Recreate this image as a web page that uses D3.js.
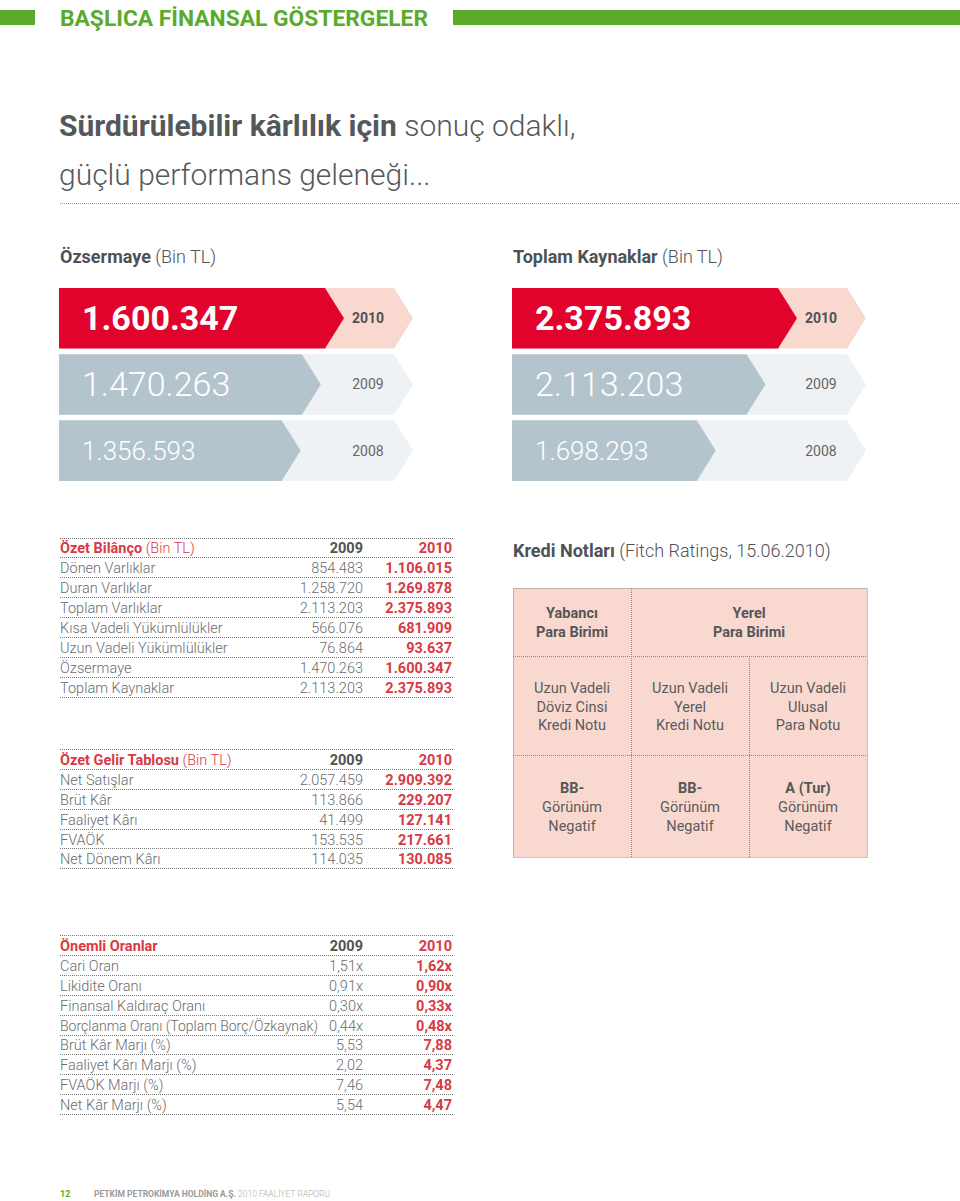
<!DOCTYPE html>
<html><head><meta charset="utf-8">
<script src="https://cdn.jsdelivr.net/npm/d3@7"></script>
<style>
body{margin:0;background:#fff}
svg{display:block}
text{font-family:Roboto,"Open Sans",sans-serif}
</style>
</head><body>
<svg id="c" width="960" height="1201"></svg>
<script>
// ---------- DATA ----------
const years = ["2010", "2009", "2008"];
const ozsermaye = [1600347, 1470263, 1356593];
const toplamKaynaklar = [2375893, 2113203, 1698293];

const bilancoLabels = ["Dönen Varlıklar","Duran Varlıklar","Toplam Varlıklar","Kısa Vadeli Yükümlülükler","Uzun Vadeli Yükümlülükler","Özsermaye","Toplam Kaynaklar"];
const bilanco2009 = [854483, 1258720, 2113203, 566076, 76864, 1470263, 2113203];
const bilanco2010 = [1106015, 1269878, 2375893, 681909, 93637, 1600347, 2375893];

const gelirLabels = ["Net Satışlar","Brüt Kâr","Faaliyet Kârı","FVAÖK","Net Dönem Kârı"];
const gelir2009 = [2057459, 113866, 41499, 153535, 114035];
const gelir2010 = [2909392, 229207, 127141, 217661, 130085];

const oranLabels = ["Cari Oran","Likidite Oranı","Finansal Kaldıraç Oranı","Borçlanma Oranı (Toplam Borç/Özkaynak)","Brüt Kâr Marjı (%)","Faaliyet Kârı Marjı (%)","FVAÖK Marjı (%)","Net Kâr Marjı (%)"];
const oran2009 = [1.51, 0.91, 0.30, 0.44, 5.53, 2.02, 7.46, 5.54];
const oran2010 = [1.62, 0.90, 0.33, 0.48, 7.88, 4.37, 7.48, 4.47];
const oranSuffix = ["x","x","x","x","","","",""];

const krediHeaders = [["Yabancı","Para Birimi"],["Yerel","Para Birimi"]];
const krediTypes = [["Uzun Vadeli","Döviz Cinsi","Kredi Notu"],["Uzun Vadeli","Yerel","Kredi Notu"],["Uzun Vadeli","Ulusal","Para Notu"]];
const krediNotes = ["BB-","BB-","A (Tur)"];
const krediOutlook = ["Görünüm","Görünüm","Görünüm"];
const krediOutlook2 = ["Negatif","Negatif","Negatif"];

// ---------- STYLE ----------
const GREEN = "#5aab2b", RED = "#e2032c", PINK = "#f9d9cf", GRAY = "#b4c4cc", LIGHT = "#eef2f5";
const TXT = "#6b6c6e", DARK = "#4f5255", REDTXT = "#d73a44";
const loc = d3.formatLocale({decimal: ",", thousands: ".", grouping: [3], currency: ["", ""]});
const fInt = loc.format(",d"), f2 = loc.format(",.2f");

const svg = d3.select("#c");

// ---------- HEADER ----------
svg.append("rect").attr("x", 0).attr("y", 10).attr("width", 35).attr("height", 15).attr("fill", GREEN);
svg.append("rect").attr("x", 453).attr("y", 10).attr("width", 507).attr("height", 15).attr("fill", GREEN);
svg.append("text").attr("x", 60).attr("y", 26).attr("font-size", 22).attr("font-weight", 700)
  .attr("fill", GREEN).attr("textLength", 368).attr("lengthAdjust", "spacingAndGlyphs")
  .text("BAŞLICA FİNANSAL GÖSTERGELER");

const t1 = svg.append("text").attr("x", 59).attr("y", 136).attr("font-size", 30).attr("fill", "#55585b");
t1.append("tspan").attr("font-weight", 700).text("Sürdürülebilir kârlılık için");
t1.append("tspan").attr("font-weight", 300).text(" sonuç odaklı,");
svg.append("text").attr("x", 59).attr("y", 185).attr("font-size", 30).attr("font-weight", 300)
  .attr("fill", "#55585b").text("güçlü performans geleneği...");
svg.append("line").attr("x1", 60).attr("x2", 960).attr("y1", 203.5).attr("y2", 203.5)
  .attr("stroke", "#999").attr("stroke-dasharray", "1,1");

// ---------- CHEVRON PANELS ----------
function chev(x0, len, y, h, d) {
  const p = d3.path();
  p.moveTo(x0, y); p.lineTo(x0 + len - d, y); p.lineTo(x0 + len, y + h / 2);
  p.lineTo(x0 + len - d, y + h); p.lineTo(x0, y + h); p.closePath();
  return p.toString();
}
function panel(x0, title, values) {
  const t = svg.append("text").attr("x", x0 + 1).attr("y", 263).attr("font-size", 18).attr("fill", DARK);
  t.append("tspan").attr("font-weight", 700).text(title);
  t.append("tspan").attr("font-weight", 300).text(" (Bin TL)");
  const yb = d3.scaleBand().domain(years).range([288, 288 + 3 * 64.3]).paddingInner(0.085);
  const x = d3.scaleLinear().domain([0, d3.max(values)]).range([0, 285]);
  const h = yb.bandwidth(), d = 19;
  years.forEach((yr, i) => {
    const y = yb(yr);
    svg.append("path").attr("d", chev(x0, 354, y, h, d)).attr("fill", i === 0 ? PINK : LIGHT);
    svg.append("path").attr("d", chev(x0, x(values[i]), y, h, d)).attr("fill", i === 0 ? RED : GRAY);
    svg.append("text").attr("x", x0 + 23).attr("y", i === 2 ? y + h / 2 + 9 : y + h / 2 + 12)
      .attr("font-size", i === 2 ? 26 : 34).attr("font-weight", i === 0 ? 700 : 300)
      .attr("fill", "#fff").text(fInt(values[i]));
    svg.append("text").attr("x", x0 + 309).attr("y", y + h / 2 + 5).attr("text-anchor", "middle")
      .attr("font-size", 14).attr("font-weight", i === 0 ? 700 : 400)
      .attr("fill", i === 0 ? DARK : "#666").text(yr);
  });
}
panel(59, "Özsermaye", ozsermaye);
panel(512, "Toplam Kaynaklar", toplamKaynaklar);

// ---------- TABLES ----------
function table(top, title, sub, labels, v9, v10, fmt9, fmt10) {
  const n = labels.length + 1, rh = 19.9;
  const y = d3.scaleLinear().domain([0, n]).range([top, top + n * rh]);
  for (let i = 0; i <= n; i++) {
    svg.append("line").attr("x1", 60).attr("x2", 453).attr("y1", Math.round(y(i)) + 0.5).attr("y2", Math.round(y(i)) + 0.5)
      .attr("stroke", "#777").attr("stroke-dasharray", "1,1");
  }
  const h = svg.append("text").attr("x", 60).attr("y", y(1) - 4).attr("font-size", 14.5).attr("fill", REDTXT);
  h.append("tspan").attr("font-weight", 700).text(title);
  if (sub) h.append("tspan").attr("font-weight", 300).text(" " + sub);
  svg.append("text").attr("x", 363).attr("y", y(1) - 4).attr("text-anchor", "end").attr("font-size", 14.5)
    .attr("font-weight", 700).attr("fill", DARK).text("2009");
  svg.append("text").attr("x", 452).attr("y", y(1) - 4).attr("text-anchor", "end").attr("font-size", 14.5)
    .attr("font-weight", 700).attr("fill", REDTXT).text("2010");
  labels.forEach((lb, i) => {
    const by = y(i + 2) - 4;
    const lt = svg.append("text").attr("x", 60).attr("y", by).attr("font-size", 14.5).attr("font-weight", 300).attr("fill", TXT).text(lb);
    if (lt.node().getComputedTextLength() > 258) lt.attr("textLength", 258).attr("lengthAdjust", "spacingAndGlyphs");
    svg.append("text").attr("x", 363).attr("y", by).attr("text-anchor", "end").attr("font-size", 14.5).attr("font-weight", 300).attr("fill", TXT).text(fmt9(v9[i], i));
    svg.append("text").attr("x", 452).attr("y", by).attr("text-anchor", "end").attr("font-size", 14.5).attr("font-weight", 700).attr("fill", REDTXT).text(fmt10(v10[i], i));
  });
}
table(537.5, "Özet Bilânço", "(Bin TL)", bilancoLabels, bilanco2009, bilanco2010, fInt, fInt);
table(749, "Özet Gelir Tablosu", "(Bin TL)", gelirLabels, gelir2009, gelir2010, fInt, fInt);
const fr = (v, i) => f2(v) + oranSuffix[i];
table(935, "Önemli Oranlar", null, oranLabels, oran2009, oran2010, fr, fr);

// ---------- KREDİ NOTLARI ----------
const kt = svg.append("text").attr("x", 513).attr("y", 557).attr("font-size", 18).attr("fill", DARK);
kt.append("tspan").attr("font-weight", 700).text("Kredi Notları");
kt.append("tspan").attr("font-weight", 300).text(" (Fitch Ratings, 15.06.2010)");

const cx = d3.scaleLinear().domain([0, 3]).range([513, 867]);
const ry = [588, 656, 755, 857];
svg.append("rect").attr("x", cx(0)).attr("y", ry[0]).attr("width", cx(3) - cx(0)).attr("height", ry[3] - ry[0]).attr("fill", PINK);
const dash = sel => sel.attr("stroke", "#8a8a8a").attr("stroke-dasharray", "1,1").attr("fill", "none");
dash(svg.append("rect").attr("x", cx(0) + 0.5).attr("y", ry[0] + 0.5).attr("width", cx(3) - cx(0)).attr("height", ry[3] - ry[0]));
[ry[1], ry[2]].forEach(yy => dash(svg.append("line").attr("x1", cx(0)).attr("x2", cx(3)).attr("y1", yy + 0.5).attr("y2", yy + 0.5)));
dash(svg.append("line").attr("x1", Math.round(cx(1)) + 0.5).attr("x2", Math.round(cx(1)) + 0.5).attr("y1", ry[0]).attr("y2", ry[3]));
dash(svg.append("line").attr("x1", Math.round(cx(2)) + 0.5).attr("x2", Math.round(cx(2)) + 0.5).attr("y1", ry[1]).attr("y2", ry[3]));

const hcx = [(cx(0) + cx(1)) / 2, (cx(1) + cx(3)) / 2];
krediHeaders.forEach((lines, i) => lines.forEach((l, j) => {
  svg.append("text").attr("x", hcx[i]).attr("y", 618 + j * 19).attr("text-anchor", "middle")
    .attr("font-size", 14.5).attr("font-weight", 700).attr("fill", "#555658").text(l);
}));
krediTypes.forEach((lines, i) => lines.forEach((l, j) => {
  svg.append("text").attr("x", (cx(i) + cx(i + 1)) / 2).attr("y", 693 + j * 18.7).attr("text-anchor", "middle")
    .attr("font-size", 14.5).attr("font-weight", 400).attr("fill", "#5a5b5e").text(l);
}));
krediNotes.forEach((n, i) => {
  const mx = (cx(i) + cx(i + 1)) / 2;
  svg.append("text").attr("x", mx).attr("y", 793).attr("text-anchor", "middle").attr("font-size", 14.5).attr("font-weight", 700).attr("fill", "#555658").text(n);
  svg.append("text").attr("x", mx).attr("y", 812).attr("text-anchor", "middle").attr("font-size", 14.5).attr("font-weight", 400).attr("fill", "#5a5b5e").text(krediOutlook[i]);
  svg.append("text").attr("x", mx).attr("y", 831).attr("text-anchor", "middle").attr("font-size", 14.5).attr("font-weight", 400).attr("fill", "#5a5b5e").text(krediOutlook2[i]);
});

// ---------- FOOTER ----------
svg.append("text").attr("x", 60).attr("y", 1197).attr("font-size", 9).attr("font-weight", 700).attr("fill", GREEN).text("12");
const ft = svg.append("text").attr("x", 94).attr("y", 1197).attr("font-size", 8.5).attr("fill", "#9a9a9a");
ft.append("tspan").attr("font-weight", 700).text("PETKİM PETROKİMYA HOLDİNG A.Ş.");
ft.append("tspan").attr("font-weight", 300).attr("fill", "#b0b0b0").text(" 2010 FAALİYET RAPORU");
</script>
</body></html>
